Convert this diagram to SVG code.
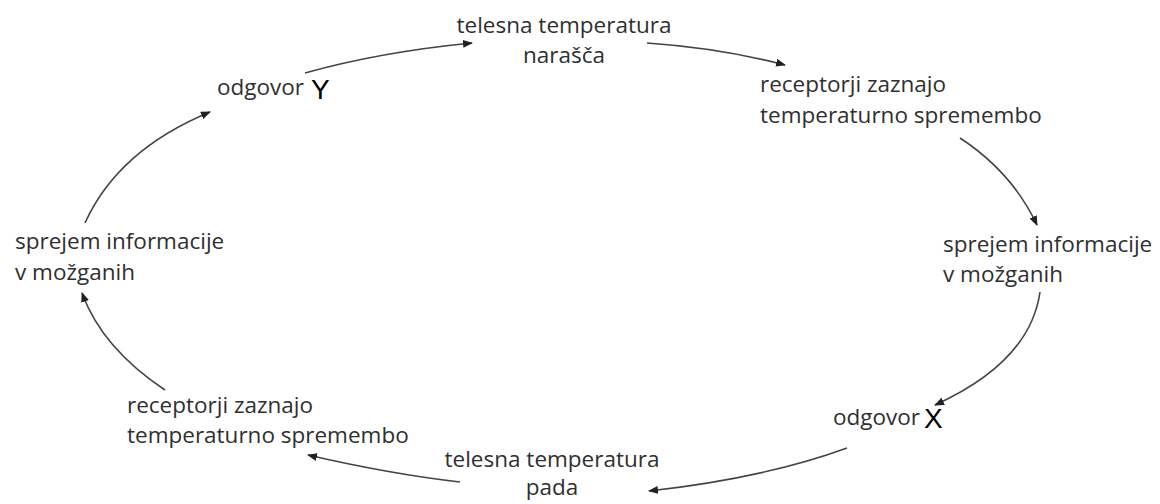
<svg xmlns="http://www.w3.org/2000/svg" width="1160" height="504" viewBox="0 0 1160 504">
<style>
.t{font-family:"Open Sans","Noto Sans",sans-serif;font-size:22.5px;fill:#2f2f2f}
.L{font-family:"Liberation Sans",Arial,sans-serif;font-size:28px;fill:#000}
.c{fill:none;stroke:#444;stroke-width:1.6}
</style>
<defs>
<marker id="ah" viewBox="0 0 10 8" refX="9" refY="4" markerWidth="10" markerHeight="8" markerUnits="userSpaceOnUse" orient="auto">
<path d="M0,0 L10,4 L0,8 Z" fill="#222"/>
</marker>
</defs>
<rect width="1160" height="504" fill="#fff"/>
<g id="n-top">
<text class="t" x="564" y="33" text-anchor="middle">telesna temperatura</text>
<text class="t" x="564" y="63" text-anchor="middle">narašča</text>
</g>
<g id="n-rec-right">
<text class="t" x="760" y="92">receptorji zaznajo</text>
<text class="t" x="760" y="123">temperaturno spremembo</text>
</g>
<g id="n-spr-right">
<text class="t" x="943" y="252">sprejem informacije</text>
<text class="t" x="943" y="282">v možganih</text>
</g>
<g id="n-odg-x">
<text class="t" x="833" y="425">odgovor</text>
<text class="L" x="924" y="428">X</text>
</g>
<g id="n-bottom">
<text class="t" x="552" y="467" text-anchor="middle">telesna temperatura</text>
<text class="t" x="552" y="495" text-anchor="middle">pada</text>
</g>
<g id="n-rec-left">
<text class="t" x="127" y="413">receptorji zaznajo</text>
<text class="t" x="127" y="443">temperaturno spremembo</text>
</g>
<g id="n-spr-left">
<text class="t" x="15" y="249">sprejem informacije</text>
<text class="t" x="15" y="280">v možganih</text>
</g>
<g id="n-odg-y">
<text class="t" x="217" y="95">odgovor</text>
<text class="L" x="311" y="99">Y</text>
</g>
<g id="connectors">
<path class="c" marker-end="url(#ah)" d="M305,73 Q380,52 472,43"/>
<path class="c" marker-end="url(#ah)" d="M647,43 Q720,48 785,65"/>
<path class="c" marker-end="url(#ah)" d="M960,138 Q1012,172 1037,225"/>
<path class="c" marker-end="url(#ah)" d="M1040,292 Q1030,362 935,405"/>
<path class="c" marker-end="url(#ah)" d="M847,448 Q765,478 649,491"/>
<path class="c" marker-end="url(#ah)" d="M460,482 Q390,474 308,455"/>
<path class="c" marker-end="url(#ah)" d="M165,390 Q102,348 82,293"/>
<path class="c" marker-end="url(#ah)" d="M85,223 Q118,150 210,112"/>
</g>
</svg>
